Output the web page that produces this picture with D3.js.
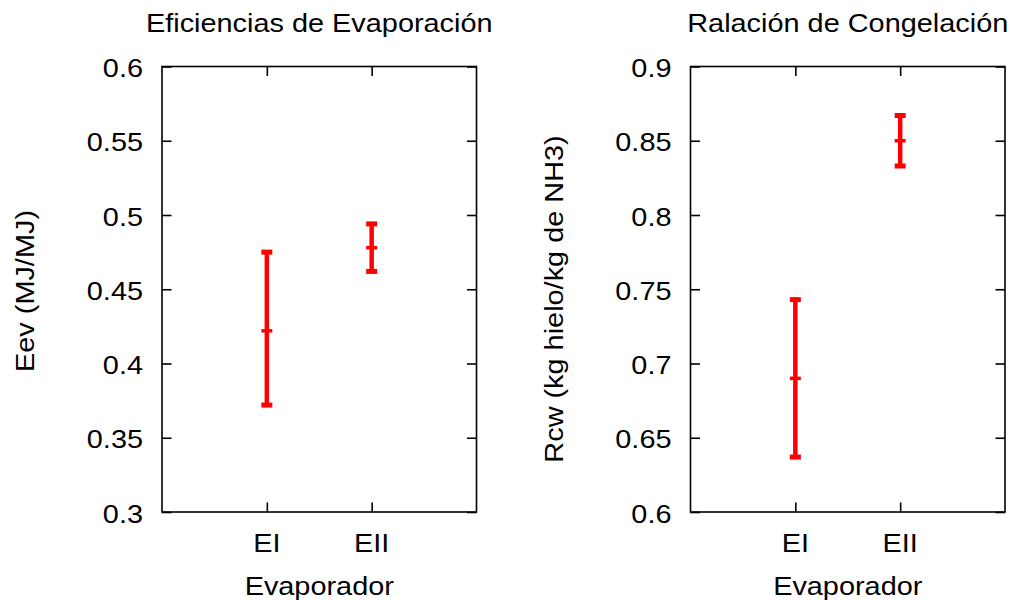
<!DOCTYPE html>
<html>
<head>
<meta charset="utf-8">
<script src="https://cdn.jsdelivr.net/npm/d3@7"></script>
<style>
  html, body { margin: 0; padding: 0; background: #fff; }
  svg { display: block; }
  text { font-family: "Liberation Sans", Arial, Helvetica, sans-serif; fill: #000; }
</style>
</head>
<body>
<svg id="chart" width="1014" height="600"></svg>
<script>
// Evaporator categories
const categories = ["EI", "EII"];

// Evaporation efficiency (MJ/MJ): mean with lower / upper bound
const eevMean = [0.422, 0.478];
const eevLow  = [0.372, 0.462];
const eevHigh = [0.475, 0.494];

// Freezing ratio (kg ice / kg NH3): mean with lower / upper bound
const rcwMean = [0.690, 0.850];
const rcwLow  = [0.637, 0.833];
const rcwHigh = [0.743, 0.867];

// Axis ticks
const eevTicks = [0.3, 0.35, 0.4, 0.45, 0.5, 0.55, 0.6];
const eevTickLabels = ["0.3", "0.35", "0.4", "0.45", "0.5", "0.55", "0.6"];
const rcwTicks = [0.6, 0.65, 0.7, 0.75, 0.8, 0.85, 0.9];
const rcwTickLabels = ["0.6", "0.65", "0.7", "0.75", "0.8", "0.85", "0.9"];

const FONT = 26.5;   // text size
const SX = 1.09;     // horizontal stretch of the glyphs

const svg = d3.select("#chart");

function stretched(g, x, y, str, anchor, rotate) {
  return g.append("text")
    .attr("transform", `translate(${x},${y})` + (rotate ? ` rotate(${rotate})` : "") + ` scale(${SX},1)`)
    .attr("text-anchor", anchor)
    .style("font-size", FONT + "px")
    .text(str);
}

function panel(opts) {
  const { left, right, top, bottom, domain, ticks, tickLabels, mean, low, high,
          title, ylabel, ylabelX, ylabelY } = opts;

  const x = d3.scaleLinear().domain([0, categories.length + 1]).range([left, right]);
  const y = d3.scaleLinear().domain(domain).range([bottom, top]);
  const g = svg.append("g");

  const TICK = 9.5;
  const axisStyle = sel => {
    sel.select(".domain").remove();
    sel.selectAll("line").attr("stroke", "#000").attr("stroke-width", 1.6);
  };

  // tick marks on all four sides, pointing inward
  g.append("g").attr("transform", `translate(${left},0)`)
    .call(d3.axisLeft(y).tickValues(ticks).tickSize(-TICK).tickFormat(""))
    .call(axisStyle);
  g.append("g").attr("transform", `translate(${right},0)`)
    .call(d3.axisRight(y).tickValues(ticks).tickSize(-TICK).tickFormat(""))
    .call(axisStyle);
  const catPos = categories.map((c, i) => i + 1);
  g.append("g").attr("transform", `translate(0,${bottom})`)
    .call(d3.axisBottom(x).tickValues(catPos).tickSize(-TICK).tickFormat(""))
    .call(axisStyle);
  g.append("g").attr("transform", `translate(0,${top})`)
    .call(d3.axisTop(x).tickValues(catPos).tickSize(-TICK).tickFormat(""))
    .call(axisStyle);

  // frame
  g.append("rect")
    .attr("x", left).attr("y", top)
    .attr("width", right - left).attr("height", bottom - top)
    .attr("fill", "none").attr("stroke", "#000").attr("stroke-width", 1.6);

  // tick labels
  ticks.forEach((t, i) => {
    stretched(g, left - 19, y(t) + 10.5, tickLabels[i], "end");
  });
  categories.forEach((c, i) => {
    stretched(g, x(i + 1), 552, c, "middle");
  });

  // titles
  stretched(g, (left + right) / 2, 32, title, "middle");
  stretched(g, (left + right) / 2, 595, "Evaporador", "middle");
  stretched(g, ylabelX, ylabelY, ylabel, "middle", -90);

  // error bars
  const red = "#ff0000";
  const CAP = 5.5;
  const bars = g.append("g");
  categories.forEach((c, i) => {
    const cx = x(i + 1);
    bars.append("line")
      .attr("x1", cx).attr("x2", cx)
      .attr("y1", y(low[i])).attr("y2", y(high[i]))
      .attr("stroke", red).attr("stroke-width", 4.5);
    [low[i], high[i]].forEach(v => {
      bars.append("line")
        .attr("x1", cx - CAP).attr("x2", cx + CAP)
        .attr("y1", y(v)).attr("y2", y(v))
        .attr("stroke", red).attr("stroke-width", 5);
    });
    bars.append("line")
      .attr("x1", cx - CAP).attr("x2", cx + CAP)
      .attr("y1", y(mean[i])).attr("y2", y(mean[i]))
      .attr("stroke", red).attr("stroke-width", 3.5);
  });
}

panel({
  left: 162, right: 476.5, top: 66.5, bottom: 512,
  domain: [0.3, 0.6], ticks: eevTicks, tickLabels: eevTickLabels,
  mean: eevMean, low: eevLow, high: eevHigh,
  title: "Eficiencias de Evaporación", ylabel: "Eev (MJ/MJ)",
  ylabelX: 34, ylabelY: 291
});

panel({
  left: 690.5, right: 1005, top: 66.5, bottom: 512,
  domain: [0.6, 0.9], ticks: rcwTicks, tickLabels: rcwTickLabels,
  mean: rcwMean, low: rcwLow, high: rcwHigh,
  title: "Ralación de Congelación", ylabel: "Rcw (kg hielo/kg de NH3)",
  ylabelX: 563, ylabelY: 299
});
</script>
</body>
</html>
